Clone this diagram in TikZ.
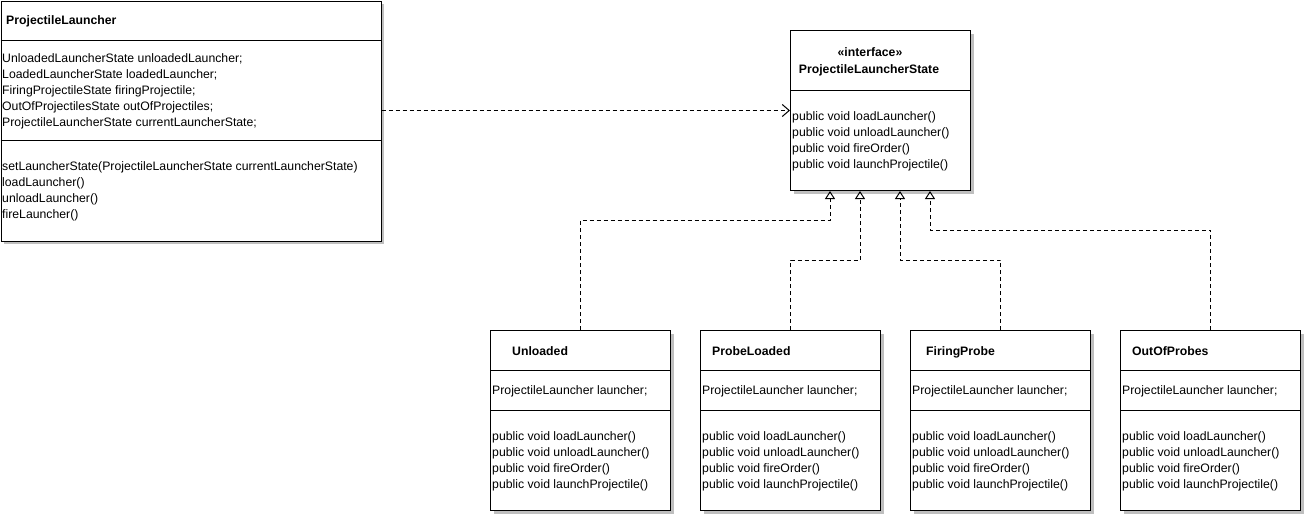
\documentclass[tikz,border=0pt]{standalone}
\usepackage{fontspec}
\setmainfont{Liberation Sans}
\usetikzlibrary{arrows.meta,shadows}
\begin{document}
\begin{tikzpicture}[x=1pt,y=-1pt,
  box/.style={draw=black, line width=1pt, fill=white, anchor=north west, inner sep=0pt,
    drop shadow={shadow xshift=3pt, shadow yshift=-3pt, fill=black!25, opacity=1}},
  txt/.style={anchor=base west, inner sep=0pt, font=\fontsize{12.25}{14}\selectfont},
  ttl/.style={anchor=base west, inner sep=0pt, font=\fontsize{12.25}{14}\selectfont\bfseries},
  divider/.style={line width=1pt},
  conn/.style={line width=1pt, dash pattern=on 4pt off 3pt},
  real/.style={conn, -{Triangle[open, length=8pt, width=10pt]}},
  dep/.style={conn, -{Straight Barb[length=7pt, width=12pt]}}]
\useasboundingbox (0,0) rectangle (1305,515);

% ProjectileLauncher
\node[box, minimum width=380pt, minimum height=240pt] (pl) at (0.5,0.5) {};
\draw[divider] (0.5,40) -- (380.5,40);
\draw[divider] (0.5,140) -- (380.5,140);
\node[ttl] (plt) at (6,24.5) {ProjectileLauncher};
\node[txt] (pla1) at (2,62.5) {UnloadedLauncherState unloadedLauncher;};
\node[txt] (pla2) at (2,78.5) {LoadedLauncherState loadedLauncher;};
\node[txt] (pla3) at (2,94.5) {FiringProjectileState firingProjectile;};
\node[txt] (pla4) at (2,110.5) {OutOfProjectilesState outOfProjectiles;};
\node[txt] (pla5) at (2,126.5) {ProjectileLauncherState currentLauncherState;};
\node[txt] (plm1) at (2,170.5) {setLauncherState(ProjectileLauncherState currentLauncherState)};
\node[txt] (plm2) at (2,186.5) {loadLauncher()};
\node[txt] (plm3) at (2,202.5) {unloadLauncher()};
\node[txt] (plm4) at (2,218.5) {fireLauncher()};

% Interface
\node[box, minimum width=180pt, minimum height=160pt] (iface) at (790,30) {};
\draw[divider] (790,90) -- (970,90);
\node[ttl, anchor=base] (ift1) at (870,56) {«interface»};
\node[ttl, anchor=base] (ift2) at (869,73) {ProjectileLauncherState};
\node[txt] (ifm1) at (792,120.5) {public void loadLauncher()};
\node[txt] (ifm2) at (792,136.5) {public void unloadLauncher()};
\node[txt] (ifm3) at (792,152.5) {public void fireOrder()};
\node[txt] (ifm4) at (792,168.5) {public void launchProjectile()};

% State classes
\foreach \nm/\x/\tx/\t in {unl/490/512/Unloaded, prl/700/712/ProbeLoaded, fir/910/926/FiringProbe, oop/1120/1132/OutOfProbes} {
  \node[box, minimum width=180pt, minimum height=180pt] (\nm) at (\x,330) {};
  \draw[divider] (\x,370) -- ++(180,0);
  \draw[divider] (\x,410) -- ++(180,0);
  \node[ttl] (\nm-t) at (\tx,355.5) {\t};
  \node[txt] (\nm-a) at (\x+2,394.5) {ProjectileLauncher launcher;};
  \node[txt] (\nm-m1) at (\x+2,440.5) {public void loadLauncher()};
  \node[txt] (\nm-m2) at (\x+2,456.5) {public void unloadLauncher()};
  \node[txt] (\nm-m3) at (\x+2,472.5) {public void fireOrder()};
  \node[txt] (\nm-m4) at (\x+2,488.5) {public void launchProjectile()};
}

% Connectors
\draw[dep] (pl.east |- iface.west) -- (iface.west);
\coordinate (j1) at (830,220);
\coordinate (j2) at (860,260);
\coordinate (j3) at (900,260);
\coordinate (j4) at (930,230);
\draw[real] (unl.north) |- (j1) -- (j1 |- iface.south);
\draw[real] (prl.north) |- (j2) -- (j2 |- iface.south);
\draw[real] (fir.north) |- (j3) -- (j3 |- iface.south);
\draw[real] (oop.north) |- (j4) -- (j4 |- iface.south);
\end{tikzpicture}
\end{document}
